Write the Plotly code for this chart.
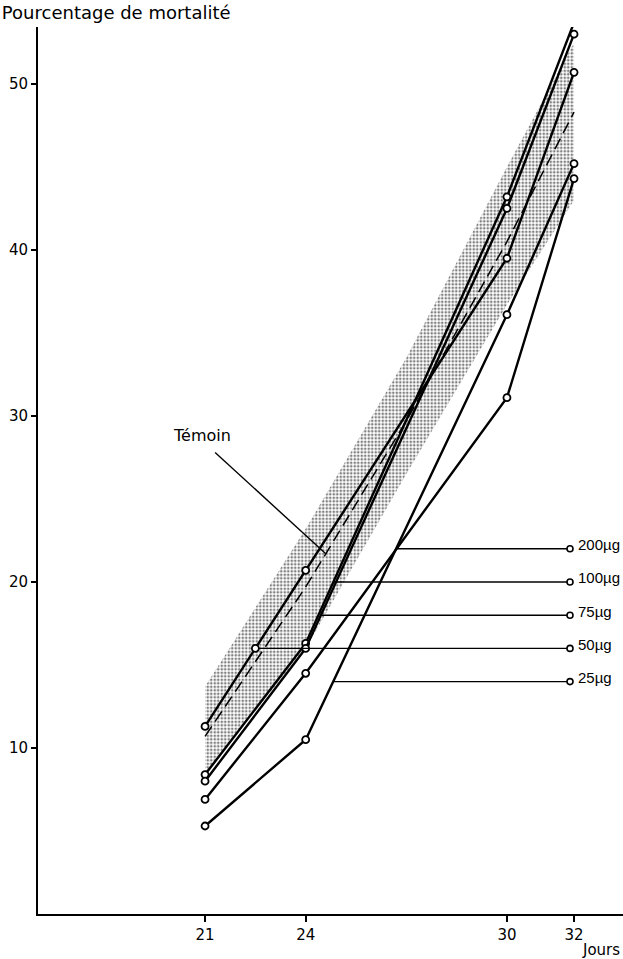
import numpy as np
import plotly.graph_objects as go

# ---- data ----
days = [21, 24, 30, 32]
doses = ["200µg", "100µg", "75µg", "50µg", "25µg"]
mort_200 = [6.9, 14.5, 31.1, 44.3]
mort_100 = [8.4, 16.3, 43.2, 53.7]
mort_75 = [8.0, 16.0, 42.5, 53.0]
mort_50 = [11.3, 20.7, 39.5, 50.7]
mort_25 = [5.3, 10.5, 36.1, 45.2]
series = [mort_200, mort_100, mort_75, mort_50, mort_25]
label_levels = [22, 20, 18, 16, 14]   # y level of each dose label

temoin_days = [21, 24, 27, 30, 32]
temoin_vals = [10.7, 19.7, 29.7, 40.5, 48.3]
band_upper = [13.7, 23.2, 33.5, 45.0, 52.5]
band_lower = [8.5, 16.0, 26.5, 36.7, 43.0]

x_ticks = [21, 24, 30, 32]
y_ticks = [10, 20, 30, 40, 50]

FONT = "DejaVu Sans"
LABEL_FONT = "Liberation Sans"
fig = go.Figure()

# shaded confidence band of the control
fig.add_trace(go.Scatter(
    x=temoin_days + temoin_days[::-1],
    y=band_upper + band_lower[::-1],
    fill="toself", mode="lines", line=dict(width=0),
    fillcolor="rgba(0,0,0,0)",
    fillpattern=dict(shape=".", fgcolor="black", bgcolor="white", size=3.5, solidity=0.45),
    hoverinfo="skip", showlegend=False))

# control (dashed)
fig.add_trace(go.Scatter(x=temoin_days, y=temoin_vals, mode="lines",
                         line=dict(color="black", width=1.5, dash="12px,6px"),
                         showlegend=False))

# dose series
for vals in series:
    fig.add_trace(go.Scatter(x=days, y=vals, mode="lines+markers",
                             line=dict(color="black", width=2.4),
                             marker=dict(symbol="circle", size=7, color="white",
                                         line=dict(color="black", width=1.8)),
                             showlegend=False))

# leader lines for dose labels
label_x = 31.88
for name, vals, lvl in zip(doses, series, label_levels):
    xs = None
    for i in range(len(days) - 1):
        a, b = vals[i], vals[i + 1]
        if (a - lvl) * (b - lvl) <= 0 and a != b:
            xs = days[i] + (lvl - a) / (b - a) * (days[i + 1] - days[i])
            break
    fig.add_trace(go.Scatter(x=[xs, label_x], y=[lvl, lvl], mode="lines",
                             line=dict(color="black", width=1.4), showlegend=False))
    fig.add_trace(go.Scatter(x=[label_x], y=[lvl], mode="markers",
                             marker=dict(symbol="circle", size=6, color="white",
                                         line=dict(color="black", width=1.6)),
                             showlegend=False))
    if name == "50µg":
        fig.add_trace(go.Scatter(x=[xs], y=[lvl], mode="markers",
                                 marker=dict(symbol="circle", size=7, color="white",
                                             line=dict(color="black", width=1.8)),
                                 showlegend=False))
    fig.add_annotation(x=label_x + 0.17, y=lvl + 0.25, text=name, showarrow=False,
                       xanchor="left", yanchor="middle",
                       font=dict(family=LABEL_FONT, size=15, color="black"))

# Témoin label with leader
tem_x = 24.6
tem_y = float(np.interp(tem_x, temoin_days, temoin_vals))
fig.add_trace(go.Scatter(x=[21.3, tem_x], y=[27.8, tem_y], mode="lines",
                         line=dict(color="black", width=1.4), showlegend=False))
fig.add_annotation(x=20.9, y=28.8, text="Témoin", showarrow=False,
                   xanchor="center", yanchor="middle",
                   font=dict(family=FONT, size=16, color="black"))

fig.add_annotation(xref="paper", yref="paper", x=0.998, y=-0.041, text="Jours",
                   showarrow=False, xanchor="right", yanchor="middle",
                   font=dict(family=FONT, size=15, color="black"))

fig.update_layout(
    width=623, height=959,
    margin=dict(l=38, r=0, t=27, b=45),
    paper_bgcolor="white", plot_bgcolor="white",
    title=dict(text="Pourcentage de mortalité", xref="container", yref="container",
               x=0.003, y=0.987, xanchor="left", yanchor="middle",
               font=dict(family=FONT, size=18, color="black")),
    xaxis=dict(range=[16.02, 33.46], tickvals=x_ticks, ticks="outside", ticklen=6,
               tickwidth=1.6, tickcolor="black", showline=True, linecolor="black",
               linewidth=2.2, showgrid=False, zeroline=False,
               tickfont=dict(family=FONT, size=15, color="black")),
    yaxis=dict(range=[0, 53.43], tickvals=y_ticks, ticks="outside", ticklen=5,
               tickwidth=1.6, tickcolor="black", showline=True, linecolor="black",
               linewidth=1.8, showgrid=False, zeroline=False,
               tickfont=dict(family=FONT, size=15, color="black")),
    showlegend=False,
)

fig.write_html("out.html")
